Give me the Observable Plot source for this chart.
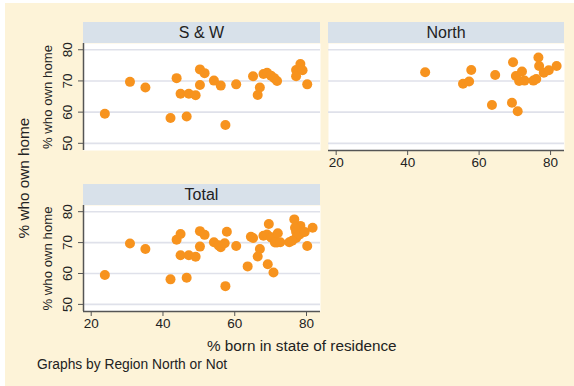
<!DOCTYPE html>
<html>
<head>
<meta charset="utf-8">
<script src="https://cdn.jsdelivr.net/npm/d3@7"></script>
<script src="https://cdn.jsdelivr.net/npm/@observablehq/plot@0.6"></script>
<style>
  html, body { margin: 0; padding: 0; background: #ffffff; }
  #wrap { position: relative; width: 574px; height: 386px; overflow: hidden; font-family: "Liberation Sans", Arial, sans-serif; color: #222; }
  #bg { position: absolute; left: 5px; top: 3px; right: 0; bottom: 0; background: #fdf3d8; }
  .abs { position: absolute; }
  .hdr { position: absolute; background: #d8e1ea; text-align: center; font-size: 16px; line-height: 21px; height: 21px; color: #222; }
  .ttl { position: absolute; font-size: 15.3px; white-space: nowrap; color: #222; }
</style>
</head>
<body>
<div id="wrap">
  <div id="bg"></div>
  <div class="hdr" style="left:83px; top:22px; width:237px;">S &amp; W</div>
  <div class="hdr" style="left:328px; top:22px; width:236px;">North</div>
  <div class="hdr" style="left:83px; top:184px; width:237px;">Total</div>
  <div id="sw" class="abs" style="left:40px; top:43px;"></div>
  <div id="north" class="abs" style="left:328px; top:43px;"></div>
  <div id="total" class="abs" style="left:40px; top:205px;"></div>
  <div class="ttl" style="left:24px; top:178px; transform: translate(-50%,-50%) rotate(-90deg);">% who own home</div>
  <div class="ttl" style="left:207px; top:337px;">% born in state of residence</div>
  <div class="ttl" style="left:37px; top:357px; font-size:13.8px;">Graphs by Region North or Not</div>
</div>
<script>
// South & West states: % born in state of residence, % who own home
const swBorn = [23.8, 30.8, 35.1, 42.1, 43.8, 44.9, 46.6, 47.2, 49.1, 50.3, 50.3, 51.6, 54.2, 56.1, 57.4, 60.4, 65.1, 66.4, 67.0, 68.0, 69.0, 70.1, 71.0, 71.8, 77.1, 77.1, 78.3, 78.9, 80.2];
const swOwn  = [59.5, 69.7, 67.9, 58.1, 70.9, 65.9, 58.6, 65.9, 65.4, 73.7, 68.7, 72.5, 70.1, 68.5, 55.9, 68.9, 71.5, 65.5, 67.9, 72.2, 72.6, 71.7, 70.9, 70.0, 73.5, 71.5, 75.4, 73.4, 68.9];
// North states
const northBorn = [44.9, 55.5, 57.2, 57.8, 63.6, 64.5, 69.2, 69.5, 70.3, 70.8, 71.2, 72.0, 72.7, 75.2, 76.0, 76.6, 76.8, 78.1, 79.5, 81.7];
const northOwn  = [72.8, 69.1, 69.8, 73.5, 62.3, 71.9, 63.0, 76.0, 71.6, 60.3, 70.0, 73.0, 70.1, 70.1, 70.6, 77.5, 74.8, 72.6, 73.4, 74.8];

const xTicks = [20, 40, 60, 80];
const yTicks = [50, 60, 70, 80];
const xDomain = [17.85, 83.9];
const yDomain = [47.7, 82.0];

const dotColor = "#f7931e";
const gridColor = "#dfe1ea";
const axisColor = "#555555";

const sw = swBorn.map((b, i) => ({born: b, own: swOwn[i]}));
const north = northBorn.map((b, i) => ({born: b, own: northOwn[i]}));
const total = sw.concat(north);

function panel({data, width, height, marginLeft, marginBottom, yAxis, xAxis}) {
  const marks = [
    Plot.frame({fill: "white", stroke: null}),
    Plot.ruleY(yTicks, {stroke: gridColor, strokeWidth: 1.6})
  ];
  if (yAxis) {
    marks.push(
      Plot.ruleX([xDomain[0]], {stroke: axisColor, strokeWidth: 1.5}),
      Plot.axisY({ticks: yTicks, tickSize: 5, tickFormat: () => "", stroke: axisColor, label: null}),
      Plot.text(yTicks, {y: d => d, frameAnchor: "left", text: d => String(d), rotate: -90, textAnchor: "middle", lineAnchor: "middle", dx: -15.5, fontSize: 13.5, fill: "#222"}),
      Plot.text(["% who own home"], {frameAnchor: "left", text: d => d, rotate: -90, textAnchor: "middle", lineAnchor: "middle", dx: -36, fontSize: 13.2, fill: "#222"})
    );
  }
  if (xAxis) {
    marks.push(
      Plot.ruleY([yDomain[0]], {stroke: axisColor, strokeWidth: 1.5}),
      Plot.axisX({ticks: xTicks, tickSize: 5, tickPadding: 2, fontSize: 13.5, stroke: axisColor, fill: "#222", label: null})
    );
  }
  marks.push(Plot.dot(data, {x: "born", y: "own", r: 5, fill: dotColor, stroke: null}));
  return Plot.plot({
    width, height,
    marginLeft, marginRight: 0, marginTop: 0, marginBottom,
    style: {background: "transparent", fontFamily: "Liberation Sans, Arial, sans-serif", color: "#222", overflow: "visible"},
    x: {domain: xDomain, axis: null},
    y: {domain: yDomain, axis: null},
    marks
  });
}

document.getElementById("sw").appendChild(panel({data: sw, width: 280, height: 107, marginLeft: 43, marginBottom: 0, yAxis: true, xAxis: false}));
document.getElementById("north").appendChild(panel({data: north, width: 236, height: 127, marginLeft: 0, marginBottom: 20, yAxis: false, xAxis: true}));
document.getElementById("total").appendChild(panel({data: total, width: 280, height: 130, marginLeft: 43, marginBottom: 24, yAxis: true, xAxis: true}));
</script>
</body>
</html>
